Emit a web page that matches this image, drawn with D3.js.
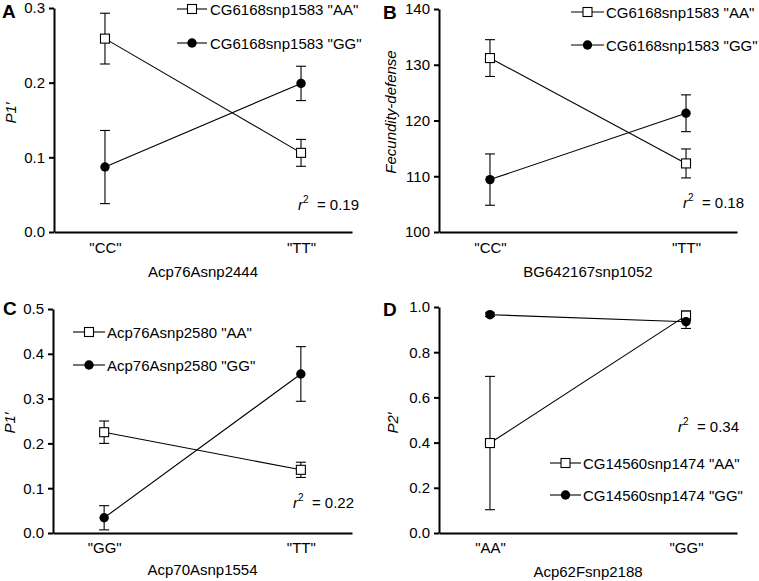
<!DOCTYPE html>
<html><head><meta charset="utf-8">
<script src="https://cdn.jsdelivr.net/npm/d3@7"></script>
<style>body{margin:0;background:#fff}svg{display:block}text{font-family:"Liberation Sans",Arial,sans-serif;fill:#000}</style>
</head><body><svg id="c" width="759" height="581"></svg>
<script>
// ---- data ----
const catsA = ['"CC"', '"TT"'];
const aaA = [0.259, 0.106], aaErrA = [0.034, 0.018];
const ggA = [0.087, 0.199], ggErrA = [0.049, 0.023];
const ticksA = [0, 0.1, 0.2, 0.3];

const catsB = ['"CC"', '"TT"'];
const aaB = [131.2, 112.3], aaErrB = [3.3, 2.6];
const ggB = [109.4, 121.3], ggErrB = [4.6, 3.3];
const ticksB = [100, 110, 120, 130, 140];

const catsC = ['"GG"', '"TT"'];
const aaC = [0.225, 0.141], aaErrC = [0.025, 0.017];
const ggC = [0.034, 0.355], ggErrC = [0.027, 0.061];
const ticksC = [0, 0.1, 0.2, 0.3, 0.4, 0.5];

const catsD = ['"AA"', '"GG"'];
const aaD = [0.398, 0.962], aaErrD = [0.295, 0.02];
const ggD = [0.966, 0.935], ggErrD = [0.008, 0.03];
const ticksD = [0, 0.2, 0.4, 0.6, 0.8, 1.0];

const panels = [
  {letter:"A", cats:catsA, aa:aaA, aaE:aaErrA, gg:ggA, ggE:ggErrA, ticks:ticksA, fmt:d3.format(".1f"),
   yTitle:"P1\u2032", xTitle:"Acp76Asnp2444", leg:['CG6168snp1583 "AA"','CG6168snp1583 "GG"'], r2:"0.19"},
  {letter:"B", cats:catsB, aa:aaB, aaE:aaErrB, gg:ggB, ggE:ggErrB, ticks:ticksB, fmt:d3.format("d"),
   yTitle:"Fecundity-defense", xTitle:"BG642167snp1052", leg:['CG6168snp1583 "AA"','CG6168snp1583 "GG"'], r2:"0.18"},
  {letter:"C", cats:catsC, aa:aaC, aaE:aaErrC, gg:ggC, ggE:ggErrC, ticks:ticksC, fmt:d3.format(".1f"),
   yTitle:"P1\u2032", xTitle:"Acp70Asnp1554", leg:['Acp76Asnp2580 "AA"','Acp76Asnp2580 "GG"'], r2:"0.22"},
  {letter:"D", cats:catsD, aa:aaD, aaE:aaErrD, gg:ggD, ggE:ggErrD, ticks:ticksD, fmt:d3.format(".1f"),
   yTitle:"P2\u2032", xTitle:"Acp62Fsnp2188", leg:['CG14560snp1474 "AA"','CG14560snp1474 "GG"'], r2:"0.34"}
];

// ---- layout ----
const layout = [
  {left:54, right:352, top:8, bottom:232, letterX:2, letterY:18, yTX:16, yTY:113, xlabY:253, xTY:277,
   legLine:[177,207], legText:210, legY:[9,43], r2X:298, r2Y:210},
  {left:439, right:737, top:9, bottom:232, letterX:383, letterY:19, yTX:396, yTY:112, xlabY:253, xTY:277,
   legLine:[571,604], legText:606, legY:[12,45], r2X:683, r2Y:208},
  {left:53, right:352, top:309, bottom:533, letterX:3, letterY:315, yTX:15, yTY:423, xlabY:553, xTY:575,
   legLine:[73,105], legText:107, legY:[332,365], r2X:293, r2Y:508},
  {left:439, right:737, top:307, bottom:533, letterX:383, letterY:316, yTX:398, yTY:423, xlabY:553, xTY:577,
   legLine:[550,581], legText:583, legY:[463,495], r2X:678, r2Y:432}
];

const svg = d3.select("#c");
const FS = 15, LFS = 15;

panels.forEach((p, i) => {
  const L = layout[i];
  const g = svg.append("g");
  const x = d3.scalePoint().domain(p.cats).range([L.left, L.right]).padding(0.26);
  const y = d3.scaleLinear().domain([p.ticks[0], p.ticks[p.ticks.length-1]]).range([L.bottom, L.top]);

  // y axis
  const ya = g.append("g").attr("transform", `translate(${L.left},0)`)
    .call(d3.axisLeft(y).tickValues(p.ticks).tickFormat(p.fmt).tickSize(5).tickSizeOuter(0).tickPadding(4));
  ya.select(".domain").attr("stroke-width", 2);
  ya.selectAll(".tick line").attr("stroke-width", 2);
  ya.selectAll("text").attr("font-size", FS).attr("font-family", '"Liberation Sans",Arial,sans-serif');

  // x axis
  const xa = g.append("g").attr("transform", `translate(0,${L.bottom})`)
    .call(d3.axisBottom(x).tickSize(0).tickSizeOuter(0).tickPadding(0));
  xa.select(".domain").attr("stroke-width", 2);
  xa.selectAll("text").attr("font-size", FS).attr("font-family", '"Liberation Sans",Arial,sans-serif')
    .attr("dy", null).attr("y", L.xlabY - L.bottom);

  // titles
  g.append("text").attr("x", (L.left + L.right)/2).attr("y", L.xTY).attr("text-anchor","middle")
    .attr("font-size", FS).text(p.xTitle);
  g.append("text").attr("transform", `translate(${L.yTX},${L.yTY}) rotate(-90)`).attr("text-anchor","middle")
    .attr("font-size", FS).attr("font-style","italic").text(p.yTitle);
  g.append("text").attr("x", L.letterX).attr("y", L.letterY).attr("font-size", 19).attr("font-weight","bold").text(p.letter);

  const series = [
    {vals:p.aa, err:p.aaE, type:"sq"},
    {vals:p.gg, err:p.ggE, type:"ci"}
  ];
  const line = d3.line().x((d,j) => x(p.cats[j])).y(d => y(d));
  series.forEach(s => {
    g.append("path").attr("d", line(s.vals)).attr("fill","none").attr("stroke","#000").attr("stroke-width",1.1);
  });
  series.forEach(s => {
    s.vals.forEach((v, j) => {
      const cx = x(p.cats[j]), e = s.err[j];
      const eg = g.append("g").attr("stroke","#000").attr("stroke-width",1.1);
      eg.append("line").attr("x1",cx).attr("x2",cx).attr("y1",y(v-e)).attr("y2",y(v+e));
      eg.append("line").attr("x1",cx-5).attr("x2",cx+5).attr("y1",y(v-e)).attr("y2",y(v-e));
      eg.append("line").attr("x1",cx-5).attr("x2",cx+5).attr("y1",y(v+e)).attr("y2",y(v+e));
    });
  });
  function marker(sel, type, cx, cy) {
    if (type === "sq") sel.append("rect").attr("x",cx-4.5).attr("y",cy-4.5).attr("width",9).attr("height",9)
      .attr("fill","#fff").attr("stroke","#000").attr("stroke-width",1.1);
    else sel.append("circle").attr("cx",cx).attr("cy",cy).attr("r",4.7).attr("fill","#000");
  }
  series.forEach(s => s.vals.forEach((v, j) => marker(g, s.type, x(p.cats[j]), y(v))));

  // legend
  ["sq","ci"].forEach((t, k) => {
    const ly = L.legY[k];
    g.append("line").attr("x1",L.legLine[0]).attr("x2",L.legLine[1]).attr("y1",ly).attr("y2",ly)
      .attr("stroke","#000").attr("stroke-width",1.1);
    marker(g, t, (L.legLine[0]+L.legLine[1])/2, ly);
    g.append("text").attr("x", L.legText).attr("y", ly + 5.5).attr("font-size", LFS).text(p.leg[k]);
  });

  // r^2
  const rt = g.append("text").attr("x", L.r2X).attr("y", L.r2Y).attr("font-size", FS);
  rt.append("tspan").attr("font-style","italic").text("r");
  rt.append("tspan").attr("font-size", 10).attr("dy", -7).text("2");
  rt.append("tspan").attr("dy", 7).text("\u00a0 = " + p.r2);
});
</script></body></html>
